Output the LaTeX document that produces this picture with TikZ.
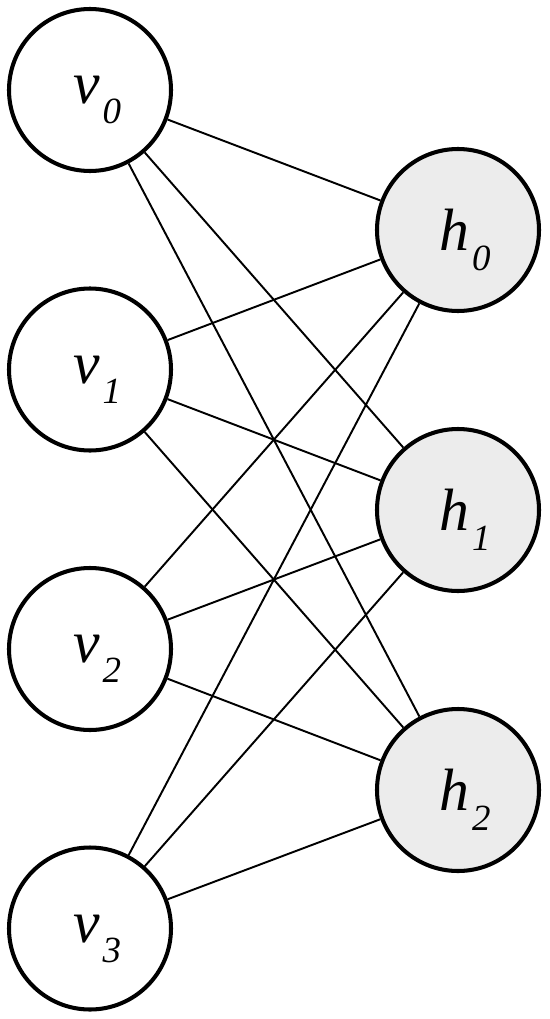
\documentclass[tikz,border=0pt]{standalone}
\usepackage{amsmath,amssymb}
\usepackage{fontspec}
\setmainfont{Liberation Serif}
\usepackage{tikz}
\usetikzlibrary{calc}
\tikzset{>=latex}
\definecolor{hidgray}{RGB}{236, 236, 236}
\newcommand{\unitname}[2]{\textit{#1}\hspace{0.06cm}\raisebox{-0.4cm}{\fontsize{21}{24}\selectfont\textit{#2}}}
\tikzset{
	unit/.style = {circle, draw = black, line width = 2.3pt, minimum size = 3.24cm, inner sep = 0pt},
	visible/.style = {unit, fill = white},
	hidden/.style = {unit, fill = hidgray},
	unitlabel/.style = {font = \fontsize{34}{40}\selectfont, inner sep = 0pt},
	link/.style = {line width = 1.1pt}
}

\begin{document}
\begin{tikzpicture}
\useasboundingbox (0, 0) rectangle (11, -20.38); % page size

% visible layer
\foreach \i in {0, 1, 2, 3}{
	\node[visible] (v\i) at (1.8, -1.8 - 5.59*\i) {};
	\node[unitlabel] (vl\i) at ($(v\i) + (0.14, -0.2)$) {\unitname{v}{\i}};
}
% hidden layer
\foreach \j in {0, 1, 2}{
	\node[hidden] (h\j) at (9.16, -4.6 - 5.6*\j) {};
	\node[unitlabel] (hl\j) at ($(h\j) + (0.14, -0.2)$) {\unitname{h}{\j}};
}

\foreach \i in {0, 1, 2, 3}{
	\foreach \j in {0, 1, 2}{
		\draw[link] (v\i) -- (h\j);
	}
}

\end{tikzpicture}
\end{document}
